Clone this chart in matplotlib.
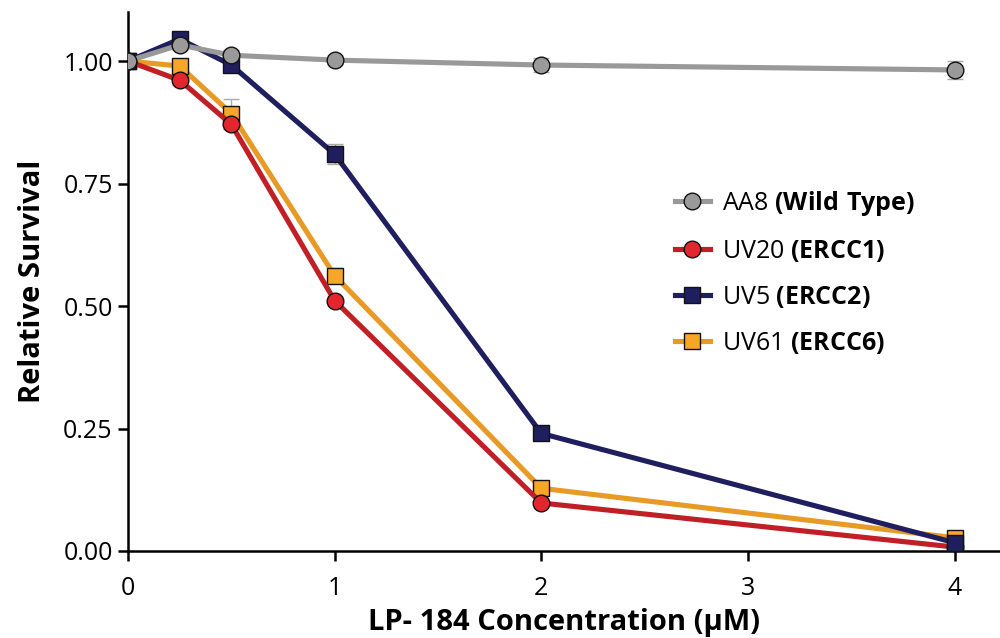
import numpy as np
import matplotlib.pyplot as plt

plt.rcParams['font.family'] = ['Open Sans', 'DejaVu Sans']
plt.rcParams['mathtext.fontset'] = 'custom'
plt.rcParams['mathtext.rm'] = 'Open Sans'
plt.rcParams['mathtext.bf'] = 'Open Sans:bold'

# data
conc = [0, 0.25, 0.5, 1, 2, 4]
aa8 = [1.00, 1.033, 1.012, 1.002, 0.992, 0.982]
uv20 = [1.00, 0.961, 0.871, 0.511, 0.098, 0.008]
uv5 = [1.00, 1.045, 0.992, 0.810, 0.240, 0.017]
uv61 = [1.00, 0.990, 0.893, 0.562, 0.128, 0.027]
aa8_err = [0.0, 0.01, 0.01, 0.008, 0.015, 0.018]
uv20_err = [0.0, 0.01, 0.01, 0.008, 0.006, 0.004]
uv5_err = [0.0, 0.01, 0.01, 0.02, 0.01, 0.006]
uv61_err = [0.0, 0.015, 0.03, 0.015, 0.008, 0.006]

labels = ['AA8 $\\bf{(Wild\\ Type)}$', 'UV20 $\\bf{(ERCC1)}$',
          'UV5 $\\bf{(ERCC2)}$', 'UV61 $\\bf{(ERCC6)}$']

fig = plt.figure(figsize=(10, 6.38), dpi=100)
ax = fig.add_axes([0.128, 0.1364, 0.872, 0.8446])

# series: values, errors, line colour, marker colour, marker
series = [
    (uv61, uv61_err, '#e89a26', '#f7a628', 's', labels[3]),
    (uv20, uv20_err, '#c01f26', '#e3262d', 'o', labels[1]),
    (uv5, uv5_err, '#1f1f5f', '#1f1f5f', 's', labels[2]),
    (aa8, aa8_err, '#999999', '#9a9a9a', 'o', labels[0]),
]
handles = {}
for vals, err, lc, mc, mk, lab in series:
    ax.errorbar(conc, vals, yerr=err, fmt='none', ecolor='#aaaaaa',
                elinewidth=1, capsize=6, capthick=1, zorder=2)
    h, = ax.plot(conc, vals, color=lc, lw=3.7, marker=mk, markersize=12,
                 markerfacecolor=mc, markeredgecolor='#111111',
                 markeredgewidth=1, label=lab, zorder=3)
    handles[lab] = h

ax.set_xlim(0, 4.22)
ax.set_ylim(0, 1.1)
ax.set_xticks([0, 1, 2, 3, 4])
ax.set_yticks([0, 0.25, 0.5, 0.75, 1.0])
ax.set_yticklabels(['0.00', '0.25', '0.50', '0.75', '1.00'])
for s in ['top', 'right']:
    ax.spines[s].set_visible(False)
for s in ['left', 'bottom']:
    ax.spines[s].set_linewidth(1.8)
ax.tick_params(width=1.8, length=7, labelsize=18, direction='out', pad=4)
ax.tick_params(axis='x', pad=11)

ax.set_xlabel('LP- 184 Concentration (µM)', fontsize=21, fontweight='bold', labelpad=5)
ax.set_ylabel('Relative Survival', fontsize=21, fontweight='bold', labelpad=12)

leg = ax.legend([handles[l] for l in labels], labels, loc='upper left',
                bbox_to_anchor=(0.627, 0.672), frameon=False, fontsize=18,
                handlelength=1.4, handletextpad=0.5, labelspacing=0.8,
                borderpad=0, borderaxespad=0)

fig.savefig('out.png', dpi=100)
